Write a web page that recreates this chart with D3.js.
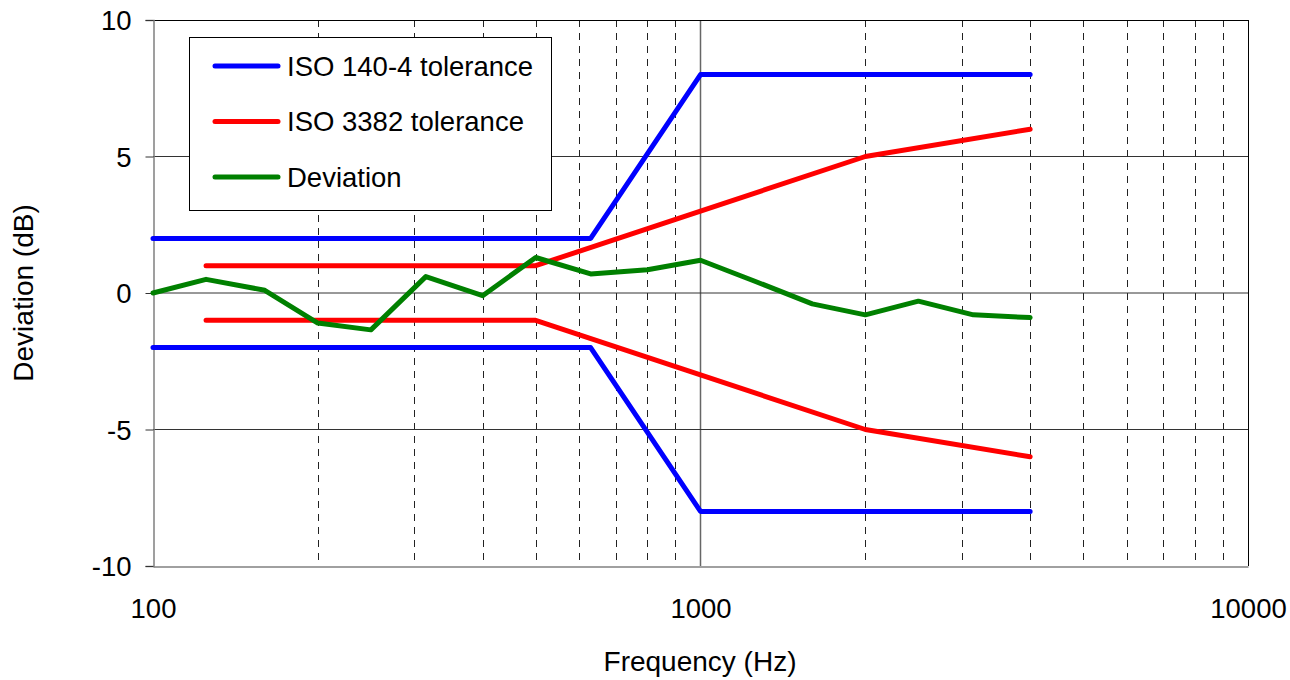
<!DOCTYPE html>
<html>
<head>
<meta charset="utf-8">
<script src="https://cdn.jsdelivr.net/npm/d3@7"></script>
<style>
  body { margin: 0; background: #fff; }
  text { font-family: "Liberation Sans", Arial, sans-serif; fill: #000; }
</style>
</head>
<body>
<div id="chart"></div>
<script>
// third-octave band centre frequencies (Hz)
var bandFreqs = [100, 125, 160, 200, 250, 315, 400, 500, 630, 800, 1000, 1250, 1600, 2000, 2500, 3150, 4000];
// measured deviation (dB) per band
var deviation = [0, 0.5, 0.1, -1.1, -1.35, 0.6, -0.1, 1.3, 0.7, 0.85, 1.2, 0.45, -0.4, -0.8, -0.3, -0.8, -0.9];

// ISO 140-4 tolerance
var iso140Freqs = [100, 630, 1000, 4000];
var iso140Upper = [2, 2, 8, 8];
var iso140Lower = [-2, -2, -8, -8];

// ISO 3382 tolerance
var iso3382Freqs = [125, 500, 1000, 2000, 4000];
var iso3382Upper = [1, 1, 3, 5, 6];
var iso3382Lower = [-1, -1, -3, -5, -6];

// axes
var xTicks = [100, 1000, 10000];
var xMinorTicks = [200, 300, 400, 500, 600, 700, 800, 900, 2000, 3000, 4000, 5000, 6000, 7000, 8000, 9000];
var yTicks = [-10, -5, 0, 5, 10];
var legendNames = ["ISO 140-4 tolerance", "ISO 3382 tolerance", "Deviation"];

var svgWidth = 1290;
var svgHeight = 680;

// plot area
var plot = { left: 153, right: 1248, top: 20, bottom: 566 };

var svg = d3.select("#chart")
  .append("svg")
  .attr("width", svgWidth)
  .attr("height", svgHeight);

var x = d3.scaleLog()
  .domain([100, 10000])
  .range([plot.left, plot.right]);

var y = d3.scaleLinear()
  .domain([-10, 10])
  .range([plot.bottom, plot.top]);

// minor dashed grid
svg.append("g")
  .selectAll("line")
  .data(xMinorTicks)
  .enter()
  .append("line")
  .attr("x1", d => Math.round(x(d)) + 0.5)
  .attr("x2", d => Math.round(x(d)) + 0.5)
  .attr("y1", plot.top)
  .attr("y2", plot.bottom)
  .attr("stroke", "#222")
  .attr("stroke-width", 1)
  .attr("stroke-dasharray", "7,6");

// major vertical grid at 1000
svg.append("line")
  .attr("x1", x(1000))
  .attr("x2", x(1000))
  .attr("y1", plot.top)
  .attr("y2", plot.bottom)
  .attr("stroke", "#666")
  .attr("stroke-width", 1.5);

// horizontal grid
svg.append("g")
  .selectAll("line")
  .data(yTicks.filter(d => d > -10 && d < 10))
  .enter()
  .append("line")
  .attr("x1", plot.left)
  .attr("x2", plot.right)
  .attr("y1", d => y(d))
  .attr("y2", d => y(d))
  .attr("stroke", "#333")
  .attr("stroke-width", 1);

// frame: top/right black, left/bottom grey axes
svg.append("line")
  .attr("x1", plot.left).attr("x2", plot.right)
  .attr("y1", plot.top + 0.5).attr("y2", plot.top + 0.5)
  .attr("stroke", "#000");
svg.append("line")
  .attr("x1", plot.right + 0.5).attr("x2", plot.right + 0.5)
  .attr("y1", plot.top).attr("y2", plot.bottom)
  .attr("stroke", "#000");

// y axis
var yAxis = d3.axisLeft(y)
  .tickValues(yTicks)
  .tickSize(8)
  .tickPadding(14)
  .tickFormat(d => String(d));

var yAxisG = svg.append("g")
  .attr("transform", `translate(${plot.left + 0.5},0)`)
  .call(yAxis);
yAxisG.select(".domain").attr("stroke", "#808080").attr("stroke-width", 1.5);
yAxisG.selectAll(".tick line").attr("stroke", "#333");
yAxisG.selectAll("text")
  .style("font-size", "27.5px")
  .attr("dy", "0.36em");

// x axis
var xAxis = d3.axisBottom(x)
  .tickValues(xTicks)
  .tickSize(0)
  .tickPadding(0)
  .tickFormat(d => String(d));

var xAxisG = svg.append("g")
  .attr("transform", `translate(0,${plot.bottom + 0.5})`)
  .call(xAxis);
xAxisG.select(".domain").attr("stroke", "#808080").attr("stroke-width", 1.5);
xAxisG.selectAll("text")
  .style("font-size", "27.5px")
  .attr("y", 51)
  .attr("dy", 0);

// series lines
var line = d3.line()
  .x(d => x(d[0]))
  .y(d => y(d[1]));

var series = [
  { pts: d3.zip(iso140Freqs, iso140Upper), color: "#0000ff" },
  { pts: d3.zip(iso140Freqs, iso140Lower), color: "#0000ff" },
  { pts: d3.zip(iso3382Freqs, iso3382Upper), color: "#ff0000" },
  { pts: d3.zip(iso3382Freqs, iso3382Lower), color: "#ff0000" },
  { pts: d3.zip(bandFreqs, deviation), color: "#008000" }
];

svg.append("g")
  .selectAll("path")
  .data(series)
  .enter()
  .append("path")
  .attr("d", d => line(d.pts))
  .attr("fill", "none")
  .attr("stroke", d => d.color)
  .attr("stroke-width", 5)
  .attr("stroke-linejoin", "round")
  .attr("stroke-linecap", "round");

// legend
var legendColors = ["#0000ff", "#ff0000", "#008000"];
var legend = svg.append("g");

legend.append("rect")
  .attr("x", 189.5)
  .attr("y", 37.5)
  .attr("width", 362)
  .attr("height", 173)
  .attr("fill", "#fff")
  .attr("stroke", "#000")
  .attr("stroke-width", 1);

var legendRows = legend.selectAll(".row")
  .data(legendNames)
  .enter()
  .append("g")
  .attr("class", "row")
  .attr("transform", (d, i) => `translate(0, ${66 + i * 55.5})`);

legendRows.append("line")
  .attr("x1", 215)
  .attr("x2", 278)
  .attr("stroke", (d, i) => legendColors[i])
  .attr("stroke-width", 5)
  .attr("stroke-linecap", "round");

legendRows.append("text")
  .attr("x", 287)
  .attr("dy", "0.36em")
  .style("font-size", "27.5px")
  .text(d => d);

// axis titles
svg.append("text")
  .attr("x", 700)
  .attr("y", 671)
  .attr("text-anchor", "middle")
  .style("font-size", "28px")
  .text("Frequency (Hz)");

svg.append("text")
  .attr("transform", "rotate(-90)")
  .attr("x", -293)
  .attr("y", 33)
  .attr("text-anchor", "middle")
  .style("font-size", "28px")
  .text("Deviation (dB)");
</script>
</body>
</html>
